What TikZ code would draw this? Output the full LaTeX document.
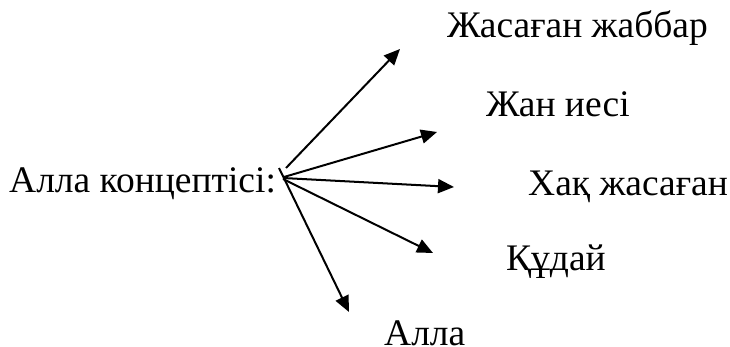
\documentclass[tikz,border=0pt]{standalone}
\usepackage{fontspec}
\setmainfont{Liberation Serif}
\usetikzlibrary{arrows.meta}
\begin{document}
\begin{tikzpicture}[x=1pt,y=-1pt,
  lbl/.style={anchor=base west,inner sep=0pt,font=\fontsize{37.5}{40}\selectfont},
  ray/.style={line width=2pt,-{Triangle[length=16pt,width=14pt]}}]
\useasboundingbox (0,0) rectangle (730,347);
% concept and its five names
\node[lbl] (root) at (9,193) {Алла концептісі:};
\node[lbl] (n1) at (447,38) {Жасаған жаббар};
\node[lbl] (n2) at (486,117) {Жан иесі};
\node[lbl] (n3) at (528,196) {Хақ жасаған};
\node[lbl] (n4) at (506,270) {Құдай};
\node[lbl] (n5) at (384,345) {Алла};
% start points of the rays beside the colon
\coordinate (s1) at (286,168);
\coordinate (s2) at (284,177);
\coordinate (s3) at (283,178);
\coordinate (s4) at (283,179);
\coordinate (s5) at (279,168);
% arrow tips
\coordinate (t1) at (400,49);
\coordinate (t2) at (437,132);
\coordinate (t3) at (454,187);
\coordinate (t4) at (433,253);
\coordinate (t5) at (349,312);
\foreach \i in {1,...,5} \draw[ray] (s\i) -- (t\i);
\end{tikzpicture}
\end{document}
